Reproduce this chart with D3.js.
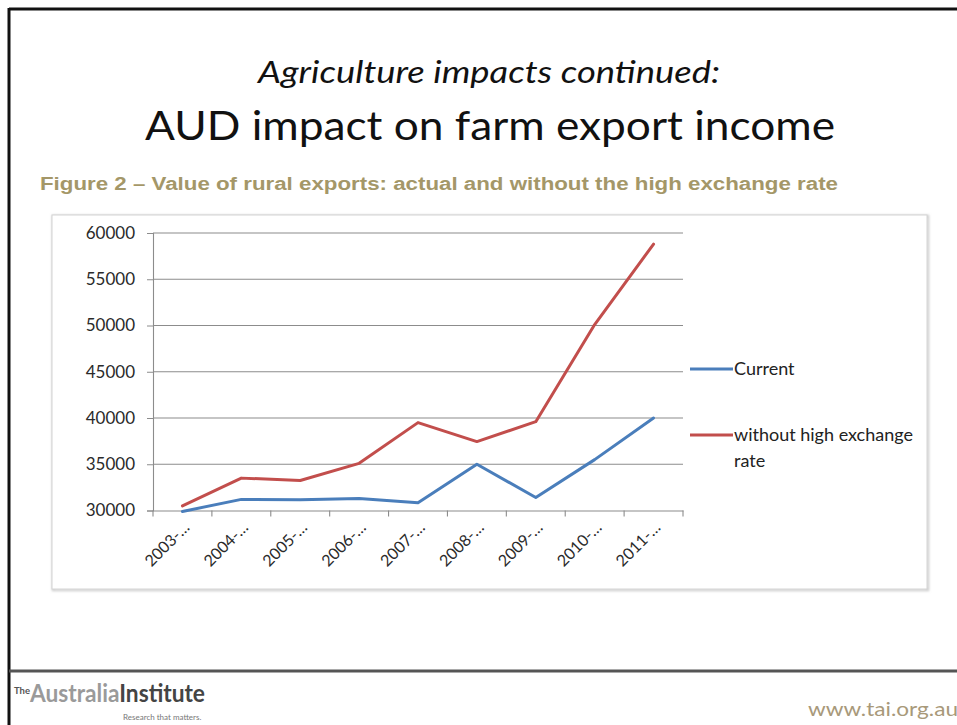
<!DOCTYPE html>
<html>
<head>
<meta charset="utf-8">
<script src="https://cdn.jsdelivr.net/npm/d3@7"></script>
<style>
  html, body { margin: 0; padding: 0; background: #fff; }
  svg { display: block; }
</style>
</head>
<body>
<svg id="slide" width="957" height="725"></svg>
<script>
// Rural export values by financial year ($m)
const categories = ["2003-…", "2004-…", "2005-…", "2006-…", "2007-…", "2008-…", "2009-…", "2010-…", "2011-…"];
const currentValues = [29900, 31200, 31150, 31300, 30850, 35000, 31400, 35500, 40000];
const withoutHighRate = [30500, 33500, 33250, 35100, 39500, 37450, 39600, 50100, 58800];
const yTicks = [30000, 35000, 40000, 45000, 50000, 55000, 60000];
const seriesNames = ["Current", "without high exchange rate"];
const seriesColors = ["#4a7ebb", "#c24e4c"];

const svg = d3.select("#slide");
const font = "Lato, 'Open Sans', sans-serif";

// Slide frame
svg.append("line").attr("x1", 9).attr("x2", 957).attr("y1", 9).attr("y2", 9)
  .attr("stroke", "#111").attr("stroke-width", 3);
svg.append("line").attr("x1", 9).attr("x2", 9).attr("y1", 8).attr("y2", 725)
  .attr("stroke", "#111").attr("stroke-width", 3);
svg.append("line").attr("x1", 9).attr("x2", 957).attr("y1", 671).attr("y2", 671)
  .attr("stroke", "#555").attr("stroke-width", 3);

// Headings
svg.append("text").attr("x", 489).attr("y", 83).attr("text-anchor", "middle")
  .attr("font-family", font).attr("font-style", "italic").attr("font-size", 31)
  .attr("fill", "#111").attr("textLength", 462).attr("lengthAdjust", "spacingAndGlyphs")
  .text("Agriculture impacts continued:");
svg.append("text").attr("x", 490).attr("y", 140).attr("text-anchor", "middle")
  .attr("font-family", font).attr("font-size", 41)
  .attr("fill", "#111").attr("textLength", 690).attr("lengthAdjust", "spacingAndGlyphs")
  .text("AUD impact on farm export income");
svg.append("text").attr("x", 40).attr("y", 190)
  .attr("font-family", "'Liberation Sans', Arial, sans-serif").attr("font-weight", "bold").attr("font-size", 18)
  .attr("fill", "#a49768").attr("textLength", 798).attr("lengthAdjust", "spacingAndGlyphs")
  .text("Figure 2 – Value of rural exports: actual and without the high exchange rate");

// Chart container
const defs = svg.append("defs");
const shadow = defs.append("filter").attr("id", "soft").attr("x", "-5%").attr("y", "-5%").attr("width", "110%").attr("height", "110%");
shadow.append("feGaussianBlur").attr("stdDeviation", 1.2);
svg.append("rect").attr("x", 53).attr("y", 216).attr("width", 875).attr("height", 374)
  .attr("fill", "none").attr("stroke", "#cfcfcf").attr("stroke-width", 2.5).attr("filter", "url(#soft)");
svg.append("rect").attr("x", 52).attr("y", 215).attr("width", 875).attr("height", 374)
  .attr("fill", "#fff").attr("stroke", "#d4d4d4").attr("stroke-width", 1);

// Scales
const plot = { left: 153, right: 683, top: 233, bottom: 510.5 };
const x = d3.scaleBand().domain(categories).range([plot.left, plot.right]);
const y = d3.scaleLinear().domain([30000, 60000]).range([plot.bottom, plot.top]);

// Gridlines
const g = svg.append("g");
g.append("g").selectAll("line").data(yTicks.filter(v => v > 30000)).join("line")
  .attr("x1", plot.left).attr("x2", plot.right)
  .attr("y1", d => y(d)).attr("y2", d => y(d))
  .attr("stroke", "#8c8c8c").attr("stroke-width", 1.1);

// Y axis
const yAxis = g.append("g").attr("transform", `translate(${plot.left},0)`)
  .call(d3.axisLeft(y).tickValues(yTicks).tickFormat(d3.format("d")).tickSize(6).tickPadding(12));
yAxis.select(".domain").attr("stroke", "#8c8c8c").attr("stroke-width", 1.1);
yAxis.selectAll(".tick line").attr("stroke", "#8c8c8c");
yAxis.selectAll("text").attr("font-family", font).attr("font-size", 17).attr("fill", "#2a2a2a");

// X axis with ticks at category boundaries
const xAxis = g.append("g").attr("transform", `translate(0,${plot.bottom})`)
  .call(d3.axisBottom(x).tickSize(0).tickPadding(0));
xAxis.select(".domain").attr("stroke", "#8c8c8c").attr("stroke-width", 1.1);
xAxis.selectAll(".tick text")
  .attr("font-family", font).attr("font-size", 16).attr("fill", "#2a2a2a")
  .attr("text-anchor", "end").attr("dy", 0)
  .attr("transform", "translate(8,18) rotate(-45)");
const bounds = categories.map(c => x(c)).concat([plot.right]);
xAxis.append("g").selectAll("line").data(bounds).join("line")
  .attr("x1", d => d).attr("x2", d => d).attr("y1", 0).attr("y2", 6)
  .attr("stroke", "#8c8c8c").attr("stroke-width", 1.1);

// Series lines
const line = d3.line()
  .x((d, i) => x(categories[i]) + x.bandwidth() / 2)
  .y(d => y(d));
[currentValues, withoutHighRate].forEach((vals, i) => {
  g.append("path").datum(vals).attr("d", line)
    .attr("fill", "none").attr("stroke", seriesColors[i]).attr("stroke-width", 3)
    .attr("stroke-linejoin", "round").attr("stroke-linecap", "round");
});

// Legend
const legend = svg.append("g").attr("font-family", font).attr("font-size", 18).attr("fill", "#222");
const legendRows = [
  { name: seriesNames[0], lines: ["Current"], y: 369 },
  { name: seriesNames[1], lines: ["without high exchange", "rate"], y: 435 }
];
legendRows.forEach((r, i) => {
  legend.append("line").attr("x1", 690).attr("x2", 733).attr("y1", r.y).attr("y2", r.y)
    .attr("stroke", seriesColors[i]).attr("stroke-width", 3);
  const t = legend.append("text").attr("x", 734).attr("y", r.y + 6);
  r.lines.forEach((s, k) => {
    t.append("tspan").attr("x", 734).attr("dy", k === 0 ? 0 : 26).text(s);
  });
});

// Footer
const logo = svg.append("text").attr("x", 14).attr("y", 702).attr("font-family", font)
  .attr("textLength", 191).attr("lengthAdjust", "spacingAndGlyphs");
logo.append("tspan").attr("font-size", 10).attr("dy", -8).attr("fill", "#555").attr("font-weight", "bold").text("The");
logo.append("tspan").attr("font-size", 24).attr("dy", 8).attr("fill", "#9a9a9a").attr("font-weight", "bold").text("Australia");
logo.append("tspan").attr("font-size", 24).attr("fill", "#444").attr("font-weight", "bold").text("Institute");
svg.append("text").attr("x", 123).attr("y", 720).attr("font-family", font).attr("font-size", 8)
  .attr("fill", "#777").text("Research that matters.");
svg.append("text").attr("x", 808).attr("y", 716).attr("font-family", font).attr("font-size", 20)
  .attr("fill", "#a8997a").attr("textLength", 150).attr("lengthAdjust", "spacingAndGlyphs")
  .text("www.tai.org.au");
</script>
</body>
</html>
